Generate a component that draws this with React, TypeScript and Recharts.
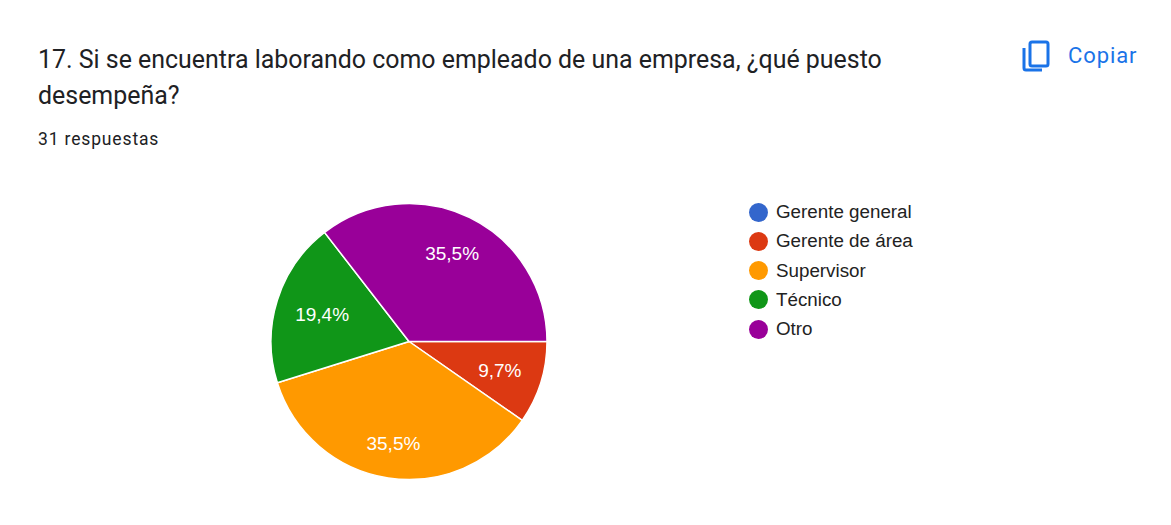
import React from 'react';
import { PieChart, Pie, Cell } from 'recharts';

const categories = ['Gerente general', 'Gerente de área', 'Supervisor', 'Técnico', 'Otro'];
const values = [0, 3, 11, 6, 11];
const percentLabels = ['', '9,7%', '35,5%', '19,4%', '35,5%'];
const colors = ['#3366cc', '#dc3912', '#ff9900', '#109618', '#990099'];
const labelRadiusFactors = [0.7, 0.69, 0.745, 0.66, 0.71];
const font = 'Roboto, Arial, sans-serif';
const chartFont = '"Liberation Sans", Arial, sans-serif';
const data = categories.map((name, i) => ({ name, value: values[i] }));

const RAD = Math.PI / 180;
const renderLabel = (p: any) => {
  const text = percentLabels[p.index];
  if (!text) return null;
  const r = p.outerRadius * labelRadiusFactors[p.index];
  const x = p.cx + r * Math.cos(-p.midAngle * RAD);
  const y = p.cy + r * Math.sin(-p.midAngle * RAD);
  return <text x={x} y={y} fill="#fff" fontSize={19} fontFamily={chartFont} textAnchor="middle" dominantBaseline="central">{text}</text>;
};

export default function App() {
  return (
    <div style={{ position: 'absolute', left: 0, top: 0, width: 1171, height: 525, background: '#fff', overflow: 'hidden', fontFamily: font }}>
      <div style={{ position: 'absolute', left: 38, top: 42, width: 950, fontSize: 24.93, lineHeight: '36px', color: '#202124' }}>
        17. Si se encuentra laborando como empleado de una empresa, ¿qué puesto<br />desempeña?
      </div>
      <div style={{ position: 'absolute', left: 38, top: 129, fontSize: 17.5, letterSpacing: 0.85, lineHeight: '20px', color: '#202124' }}>31 respuestas</div>
      <svg style={{ position: 'absolute', left: 1020, top: 39 }} width={32} height={34} viewBox="0 0 32 34" fill="none" stroke="#1a73e8" strokeWidth={3}>
        <rect x={10} y={3} width={18} height={24} rx={2} />
        <path d="M4 9 V29 a2 2 0 0 0 2 2 H22" />
      </svg>
      <div style={{ position: 'absolute', left: 1068, top: 43, fontSize: 22, letterSpacing: 0.9, lineHeight: '26px', fontWeight: 400, color: '#1a73e8' }}>Copiar</div>
      <div style={{ position: 'absolute', left: 0, top: 0 }}>
        <PieChart width={1171} height={525} margin={{ top: 0, right: 0, bottom: 0, left: 0 }}>
          <Pie data={data} dataKey="value" nameKey="name" cx={409} cy={341.5} outerRadius={138} innerRadius={0}
            startAngle={0} endAngle={-360} stroke="#fff" strokeWidth={1.5} isAnimationActive={false} labelLine={false} label={renderLabel}>
            {data.map((d, i) => <Cell key={d.name} fill={colors[i]} />)}
          </Pie>
        </PieChart>
      </div>
      {categories.map((c, i) => (
        <div key={c} style={{ position: 'absolute', left: 749, top: 202 + i * 29.3, height: 20, display: 'flex', alignItems: 'center', fontSize: 18.8, fontFamily: chartFont, color: '#222' }}>
          <span style={{ width: 19, height: 19, borderRadius: '50%', background: colors[i], display: 'inline-block', marginRight: 8 }} />
          {c}
        </div>
      ))}
    </div>
  );
}
